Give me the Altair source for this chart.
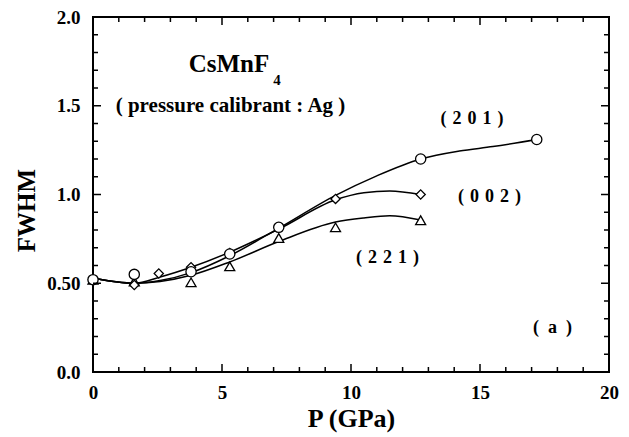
import altair as alt
import pandas as pd

FONT = "Liberation Serif"

# Measured points (pressure in GPa, FWHM in degrees)
p201 = [0.0, 1.6, 3.8, 5.3, 7.2, 12.7, 17.2]
w201 = [0.52, 0.55, 0.565, 0.665, 0.815, 1.20, 1.31]

p002 = [0.0, 1.6, 2.55, 3.8, 5.3, 9.4, 12.7]
w002 = [0.52, 0.49, 0.555, 0.59, 0.67, 0.975, 1.00]

p221 = [0.0, 1.6, 3.8, 5.3, 7.2, 9.4, 12.7]
w221 = [0.52, 0.51, 0.505, 0.595, 0.755, 0.815, 0.855]

# Smooth guide curves drawn through the data
c201_p = [0.0, 0.8, 1.6, 2.6, 3.8, 5.3, 7.2, 9.4, 11.0, 12.7, 14.2, 15.5, 17.2]
c201_w = [0.528, 0.51, 0.50, 0.515, 0.56, 0.655, 0.81, 0.995, 1.105, 1.20, 1.245, 1.27, 1.31]

c002_p = [0.0, 0.8, 1.6, 2.6, 3.8, 5.3, 7.2, 9.4, 10.5, 11.5, 12.7]
c002_w = [0.528, 0.51, 0.50, 0.535, 0.59, 0.675, 0.805, 0.97, 1.01, 1.02, 1.0]

c221_p = [0.0, 0.8, 1.6, 2.6, 3.8, 5.3, 7.2, 9.4, 10.5, 11.5, 12.7]
c221_w = [0.528, 0.51, 0.50, 0.51, 0.545, 0.62, 0.735, 0.845, 0.868, 0.88, 0.856]

# Axis ticks and labels
x_major = [0, 5, 10, 15, 20]
x_minor = [v for v in range(0, 21) if v % 5 != 0]
y_major = [0.0, 0.5, 1.0, 1.5, 2.0]
y_minor = [0.1, 0.2, 0.3, 0.4, 0.6, 0.7, 0.8, 0.9, 1.1, 1.2, 1.3, 1.4, 1.6, 1.7, 1.8, 1.9]
y_labels = ["0.0", "0.50", "1.0", "1.5", "2.0"]

# Annotations (series tags and panel letter)
SP = "\u2004"
ann_text = [f"({SP}2{SP}0{SP}1{SP})", f"({SP}0{SP}0{SP}2{SP})", f"({SP}2{SP}2{SP}1{SP})", "(\u2002a\u2002)"]
ann_p = [14.69, 15.37, 11.41, 17.81]
ann_w = [1.425, 0.988, 0.642, 0.25]
ann_size = [18, 18, 18, 18]

W, H = 516, 355

xs = alt.Scale(domain=[0, 20], nice=False, zero=False)
ys = alt.Scale(domain=[0, 2], nice=False, zero=False)

y_label_expr = "+".join(
    f"(abs(datum.value - {v}) < 1e-6 ? '{t}' : '')" for v, t in zip(y_major, y_labels)
)

def curve_df(p, w, name):
    return pd.DataFrame({"P": p, "FWHM": w, "series": name})

curves = pd.concat([
    curve_df(c201_p, c201_w, "201"),
    curve_df(c002_p, c002_w, "002"),
    curve_df(c221_p, c221_w, "221"),
])

x_enc = alt.X("P:Q", scale=xs, axis=alt.Axis(
    values=x_major, title="P (GPa)", grid=False, ticks=False, domain=False,
    labelFlush=False, labelFont=FONT, labelFontWeight="bold", labelFontSize=19,
    labelColor="black", labelPadding=11, titleFont=FONT, titleFontWeight="bold",
    titleFontSize=26, titleColor="black", titleBaseline="middle", titleY=46,
))
y_enc = alt.Y("FWHM:Q", scale=ys, axis=alt.Axis(
    values=y_major, labelExpr=y_label_expr, title="FWHM", grid=False, ticks=False,
    domain=False, labelFlush=False, labelFont=FONT, labelFontWeight="bold",
    labelFontSize=19, labelColor="black", labelPadding=13, titleFont=FONT,
    titleFontWeight="bold", titleFontSize=25, titleColor="black", titleAngle=270,
    titleBaseline="middle", titleAlign="center", titleX=-67, titleY=193,
))

lines = alt.Chart(curves).mark_line(
    color="black", strokeWidth=1.5, interpolate="monotone"
).encode(x=x_enc, y=y_enc, detail="series:N")

def markers(p, w, shape, size):
    return alt.Chart(pd.DataFrame({"P": p, "FWHM": w})).mark_point(
        shape=shape, size=size, filled=True, fill="white", stroke="black",
        strokeWidth=1.3, opacity=1,
    ).encode(x=alt.X("P:Q", scale=xs), y=alt.Y("FWHM:Q", scale=ys))

pts = [
    markers(p221, w221, "triangle-up", 100),
    markers(p002, w002, "diamond", 85),
    markers(p201, w201, "circle", 105),
]

# Inward-pointing ticks on all four sides
def tick_rules(vals, channel, length):
    df = pd.DataFrame({"v": vals})
    base = alt.Chart(df).mark_rule(color="black", strokeWidth=1.5)
    if channel == "x":
        bottom = base.encode(x=alt.X("v:Q", scale=xs), y=alt.value(H - length), y2=alt.value(H))
        top = base.encode(x=alt.X("v:Q", scale=xs), y=alt.value(0), y2=alt.value(length))
        return [bottom, top]
    left = base.encode(y=alt.Y("v:Q", scale=ys), x=alt.value(0), x2=alt.value(length))
    right = base.encode(y=alt.Y("v:Q", scale=ys), x=alt.value(W - length), x2=alt.value(W))
    return [left, right]

ticks = (tick_rules(x_major, "x", 8) + tick_rules(x_minor, "x", 5)
         + tick_rules(y_major, "y", 8) + tick_rules(y_minor, "y", 5))

ann = alt.Chart(pd.DataFrame({"P": ann_p, "FWHM": ann_w, "t": ann_text, "s": ann_size})).mark_text(
    font=FONT, fontWeight="bold", color="black", baseline="middle", align="center"
).encode(
    x=alt.X("P:Q", scale=xs), y=alt.Y("FWHM:Q", scale=ys), text="t:N",
    size=alt.Size("s:Q", scale=None, legend=None),
)

formula = alt.Chart(pd.DataFrame({"P": [5.27], "FWHM": [1.738], "t": ["CsMnF"]})).mark_text(
    font=FONT, fontWeight="bold", fontSize=25, color="black", baseline="middle", align="center"
).encode(x=alt.X("P:Q", scale=xs), y=alt.Y("FWHM:Q", scale=ys), text="t:N")

subscript = alt.Chart(pd.DataFrame({"P": [7.13], "FWHM": [1.645], "t": ["4"]})).mark_text(
    font=FONT, fontWeight="bold", fontSize=15, color="black", baseline="middle", align="center"
).encode(x=alt.X("P:Q", scale=xs), y=alt.Y("FWHM:Q", scale=ys), text="t:N")

calib = alt.Chart(pd.DataFrame({"P": [5.33], "FWHM": [1.499], "t": ["( pressure calibrant : Ag )"]})).mark_text(
    font=FONT, fontWeight="bold", fontSize=21, color="black", baseline="middle", align="center"
).encode(x=alt.X("P:Q", scale=xs), y=alt.Y("FWHM:Q", scale=ys), text="t:N")

chart = alt.layer(
    lines, *pts, *ticks, ann, formula, subscript, calib
).properties(
    width=W, height=H,
    autosize=alt.AutoSizeParams(type="none"),
    padding={"left": 93, "top": 17, "right": 20, "bottom": 65},
    background="white",
).configure_view(
    stroke="black", strokeWidth=2
)

chart.save("out.html", embed_options={"renderer": "svg", "actions": False})
